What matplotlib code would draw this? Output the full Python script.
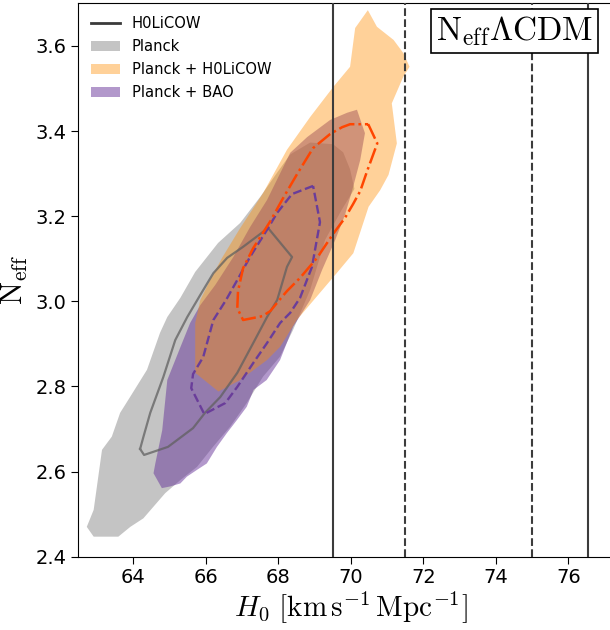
""" neff_lcdm.py """

import numpy as np
import matplotlib
matplotlib.use("Agg")
import matplotlib.pyplot as plt
from matplotlib.lines import Line2D
from matplotlib.patches import Patch

plt.rcParams["mathtext.fontset"] = "cm"

# Planck (filled, grey)
planck_h0 = [62.72, 62.91, 63.59, 63.92, 64.28, 64.88, 65.30, 65.76, 66.20, 66.67,
             67.13, 67.58, 68.05, 68.41, 68.88, 69.29, 69.75, 70.10, 69.98, 69.79,
             69.51, 68.88, 68.33, 67.95, 67.50, 66.95, 66.34, 65.71, 65.30, 64.94,
             64.74, 64.38, 63.92, 63.64, 63.41, 63.14, 62.91]
planck_neff = [2.470, 2.447, 2.447, 2.470, 2.490, 2.549, 2.580, 2.611, 2.658, 2.705,
               2.761, 2.823, 2.870, 2.933, 3.027, 3.144, 3.215, 3.264, 3.310, 3.350,
               3.369, 3.373, 3.345, 3.300, 3.245, 3.184, 3.137, 3.069, 3.008, 2.963,
               2.926, 2.839, 2.776, 2.738, 2.682, 2.651, 2.510]

# Planck + BAO (filled, purple)
bao_h0 = [64.56, 64.79, 65.02, 65.30, 65.48, 65.76, 66.03, 66.31, 66.58, 66.86,
          67.13, 67.32, 67.68, 68.05, 68.41, 68.88, 69.21, 69.57, 69.84, 70.04,
          70.26, 70.39, 70.17, 69.90, 69.43, 68.80, 68.33, 67.69, 67.22, 66.76,
          66.26, 65.85, 65.57, 65.30, 64.94, 64.80, 64.61]
bao_neff = [2.596, 2.561, 2.565, 2.572, 2.588, 2.604, 2.619, 2.658, 2.690, 2.721,
            2.752, 2.792, 2.815, 2.862, 2.940, 3.003, 3.074, 3.144, 3.203, 3.261,
            3.332, 3.395, 3.450, 3.443, 3.426, 3.386, 3.349, 3.238, 3.174, 3.104,
            3.038, 2.991, 2.949, 2.892, 2.815, 2.697, 2.619]

# Planck + H0LiCOW (filled, orange)
h0l_h0 = [66.35, 66.95, 67.69, 68.05, 68.51, 69.06, 69.61, 70.07, 70.49, 70.81,
          71.04, 71.27, 71.13, 71.45, 71.62, 71.45, 71.18, 70.72, 70.47, 70.12,
          69.98, 69.52, 68.88, 68.24, 67.58, 66.95, 66.45, 66.12, 65.85, 65.71,
          65.71]
h0l_neff = [2.788, 2.815, 2.862, 2.893, 2.956, 3.011, 3.066, 3.113, 3.222, 3.261,
            3.297, 3.371, 3.465, 3.528, 3.551, 3.583, 3.614, 3.645, 3.684, 3.642,
            3.551, 3.504, 3.433, 3.356, 3.254, 3.172, 3.102, 3.050, 3.003, 2.949,
            2.832]

# H0LiCOW contour (solid line)
cow_h0 = [64.19, 64.30, 64.96, 65.65, 65.98, 66.40, 66.87, 67.31, 67.69, 67.97,
          68.24, 68.38, 67.72, 67.03, 66.59, 66.21, 65.85, 65.49, 65.16, 64.83,
          64.47, 64.28]
cow_neff = [2.653, 2.639, 2.658, 2.702, 2.738, 2.775, 2.832, 2.902, 2.963, 3.003,
            3.081, 3.104, 3.172, 3.128, 3.102, 3.066, 3.015, 2.963, 2.909, 2.822,
            2.738, 2.681]

# Planck + BAO inner contour (dashed)
bao68_h0 = [68.96, 68.38, 67.97, 67.69, 67.22, 66.87, 66.56, 66.21, 65.93, 65.65,
            65.60, 65.96, 66.54, 66.87, 67.31, 67.69, 68.05, 68.33, 68.60, 68.93,
            69.15]
bao68_neff = [3.271, 3.252, 3.208, 3.168, 3.104, 3.050, 3.003, 2.956, 2.869, 2.829,
              2.796, 2.735, 2.761, 2.799, 2.855, 2.902, 2.949, 2.973, 3.008, 3.081,
              3.186]

# Planck + H0LiCOW inner contour (dash-dot)
h0l68_h0 = [70.48, 70.73, 70.45, 70.26, 70.06, 69.84, 69.51, 69.07, 68.60, 68.24,
            68.05, 67.78, 67.56, 67.03, 66.87, 66.89, 67.03, 67.31, 67.78, 68.13,
            68.52, 68.96, 69.43, 69.76, 69.98]
h0l68_neff = [3.416, 3.371, 3.306, 3.259, 3.228, 3.196, 3.158, 3.102, 3.055, 3.024,
              3.005, 2.977, 2.965, 2.956, 2.984, 3.024, 3.078, 3.125, 3.188, 3.242,
              3.299, 3.360, 3.393, 3.409, 3.416]

# Vertical reference lines (H0 values)
vlines_solid = [69.5, 76.55]
vlines_dashed = [71.5, 75.0]

xticks = [64, 66, 68, 70, 72, 74, 76]
yticks = [2.4, 2.6, 2.8, 3.0, 3.2, 3.4, 3.6]


def closed(x, y):
    """Close a polygon for line plotting."""
    return list(x) + [x[0]], list(y) + [y[0]]


fig = plt.figure(figsize=(6.1, 6.3), dpi=100)
ax = fig.add_axes([0.128, 0.1164, 0.893, 0.8783])

ax.fill(planck_h0, planck_neff, color="#c4c4c4", lw=0, zorder=1)
ax.fill(bao_h0, bao_neff, color="rebeccapurple", alpha=0.5, lw=0, zorder=2)
ax.fill(h0l_h0, h0l_neff, color="darkorange", alpha=0.4, lw=0, zorder=3)

ax.plot(*closed(cow_h0, cow_neff), color="#606060", alpha=0.75, lw=1.6, zorder=4)
ax.plot(*closed(bao68_h0, bao68_neff), color="#6a3d9a", ls="--", lw=1.7, zorder=5)
ax.plot(*closed(h0l68_h0, h0l68_neff), color="orangered", ls="-.", lw=1.8, zorder=6)

for xv in vlines_solid:
    ax.axvline(xv, color="#3c3c3c", lw=1.5, zorder=7)
for xv in vlines_dashed:
    ax.axvline(xv, color="#3c3c3c", lw=1.5, ls="--", zorder=7)

ax.set_xlim(62.48, 77.5)
ax.set_ylim(2.4, 3.7)
ax.set_xticks(xticks)
ax.set_yticks(yticks)
ax.tick_params(labelsize=14, length=5)
ax.set_xlabel(r"$H_0\ [\mathrm{km\,s^{-1}\,Mpc^{-1}}]$", fontsize=21, labelpad=2)
ax.set_ylabel(r"$\mathrm{N_{eff}}$", fontsize=22)

handles = [Line2D([], [], color="#3a3a3a", lw=2),
           Patch(color="#c4c4c4", lw=0),
           Patch(color="darkorange", alpha=0.4, lw=0),
           Patch(color="rebeccapurple", alpha=0.5, lw=0)]
labels = ["H0LiCOW", "Planck", "Planck + H0LiCOW", "Planck + BAO"]
ax.legend(handles, labels, loc="upper left", frameon=False, fontsize=10.6,
          labelspacing=0.55, borderaxespad=0.45)

ax.text(0.945, 0.98, r"$\mathrm{N_{eff}}\Lambda\mathrm{CDM}$", transform=ax.transAxes,
        ha="right", va="top", fontsize=24, zorder=10,
        bbox=dict(boxstyle="square,pad=0.15", fc="white", ec="k", lw=1.2))

fig.savefig("out.png", dpi=100)
